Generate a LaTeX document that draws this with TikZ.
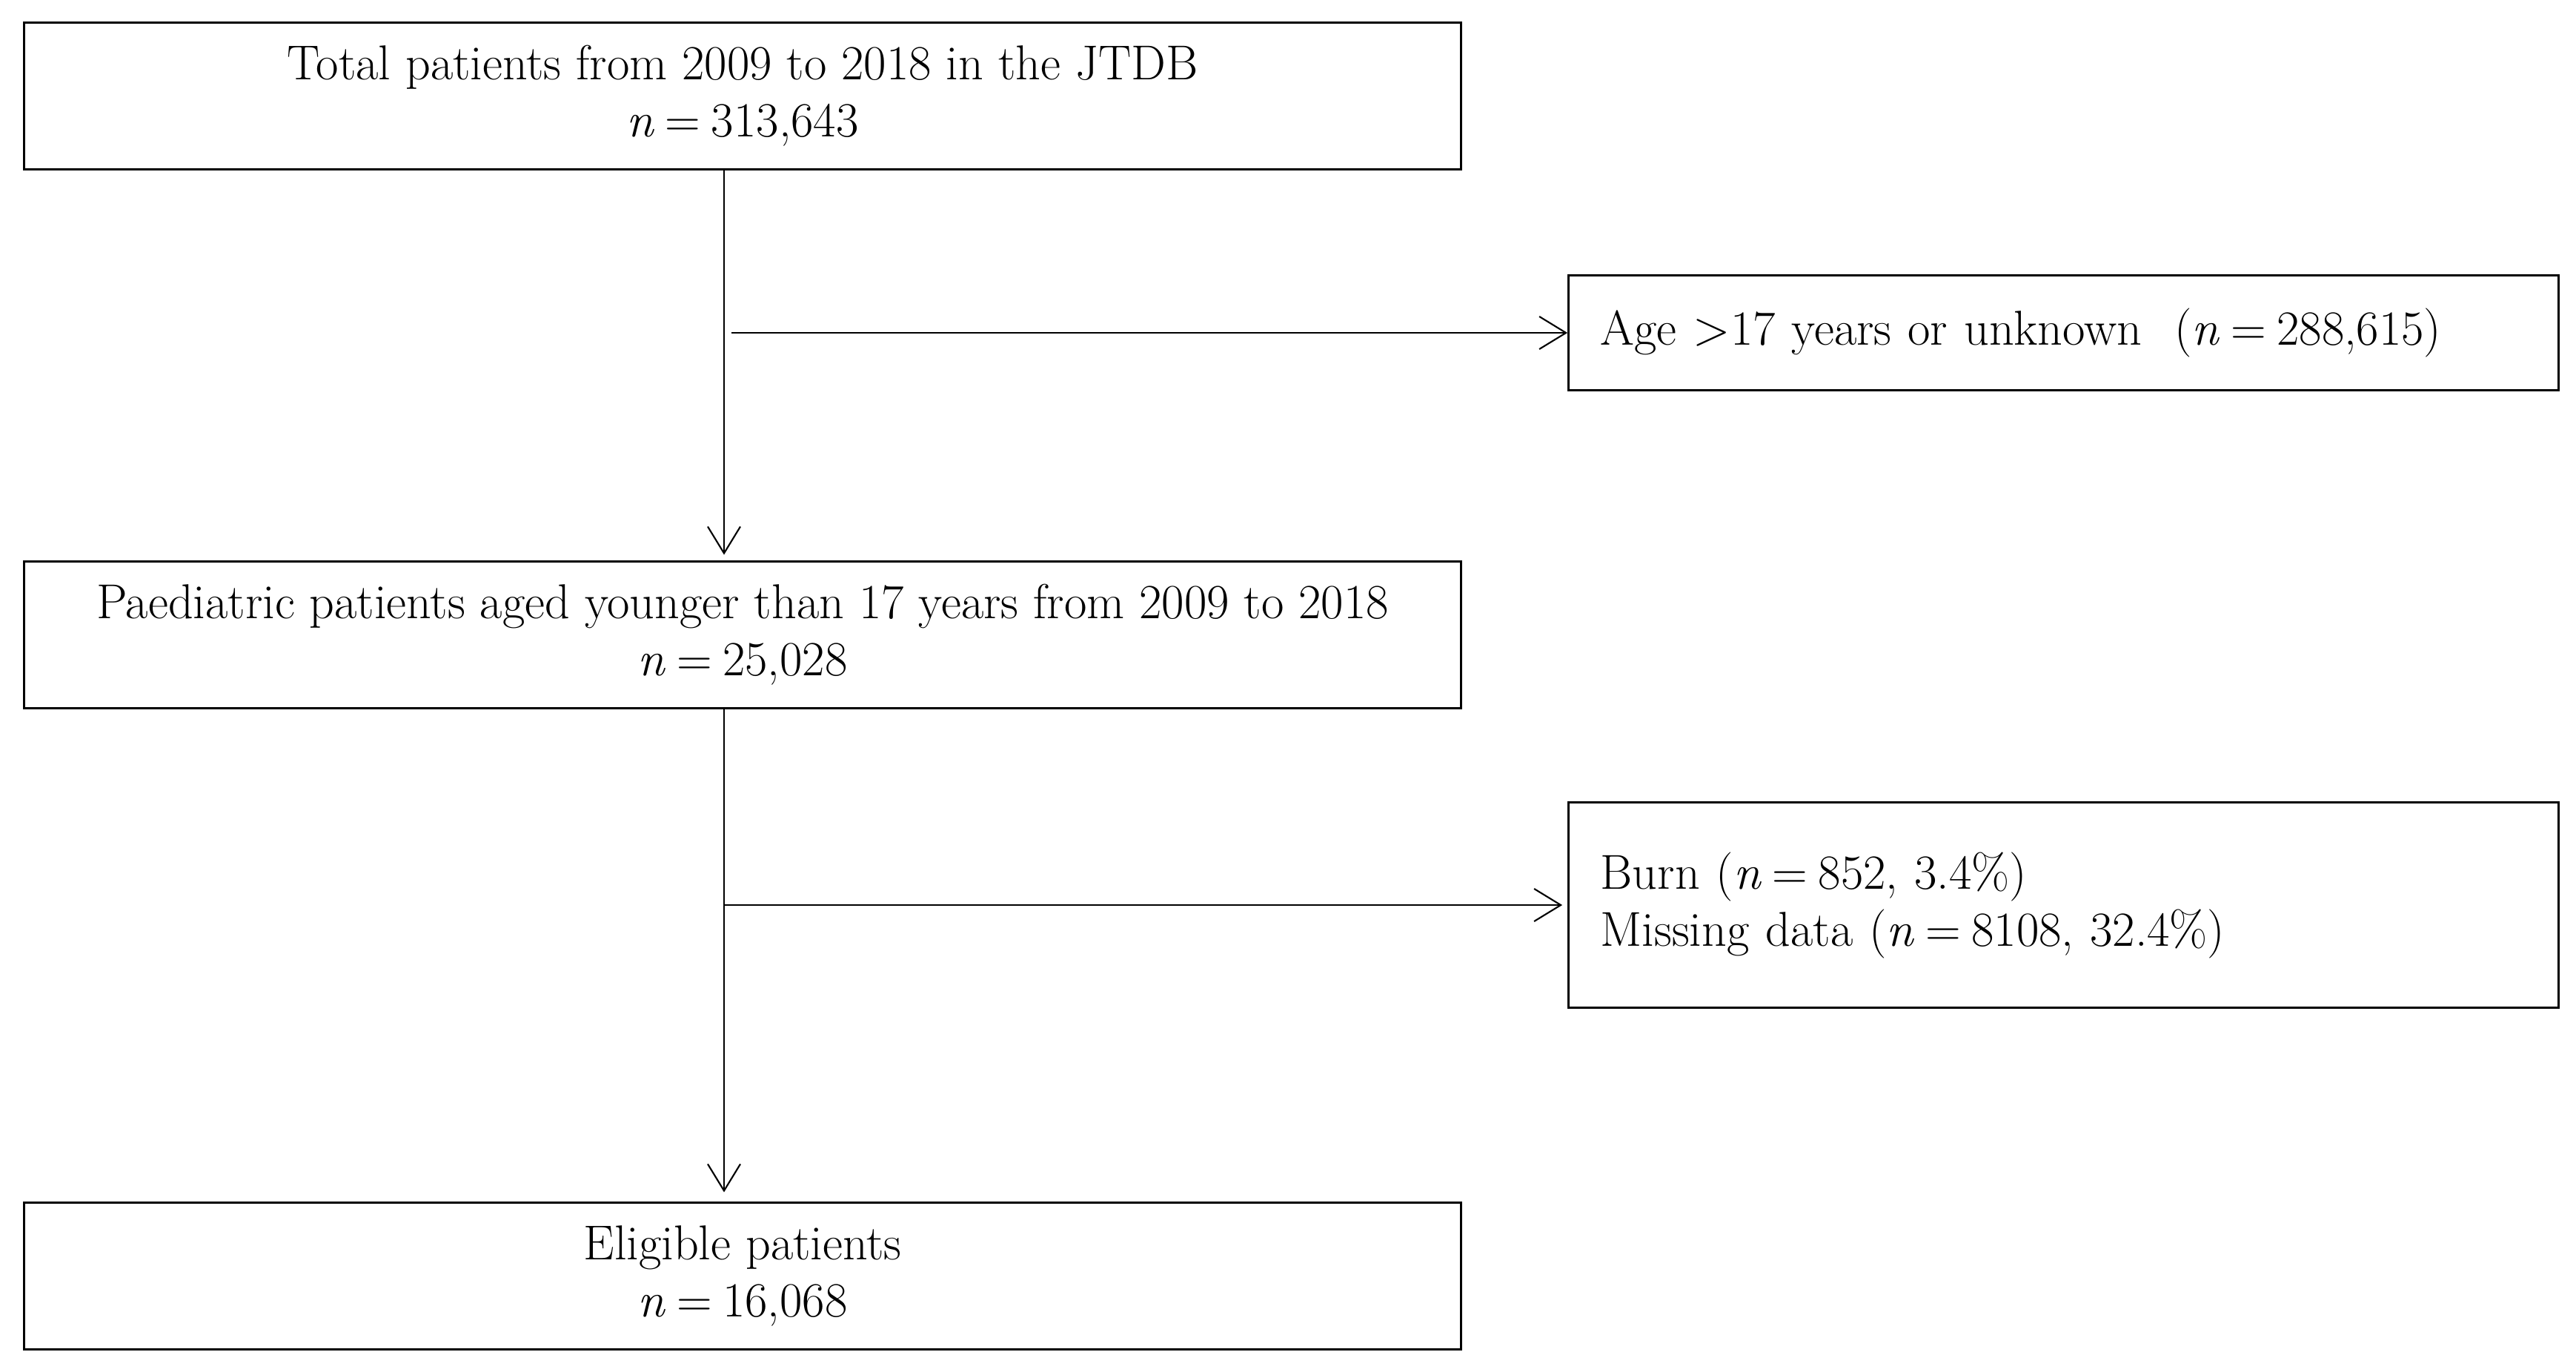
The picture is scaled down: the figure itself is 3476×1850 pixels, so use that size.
\documentclass[tikz,border=0pt]{standalone}
\usetikzlibrary{arrows.meta}
\newcommand{\eqsp}{\hspace{0.22em}=\hspace{0.22em}}
\begin{document}
\begin{tikzpicture}[x=0.01cm,y=-0.01cm,
  mainbox/.style={draw=black, line width=0.85pt, minimum width=19.38cm, minimum height=1.97cm,
    align=center, inner sep=0pt, font=\fontsize{18.8}{21.9}\selectfont},
  sidebox/.style={draw=black, line width=0.85pt, text width=12.49cm, inner xsep=0.43cm, inner ysep=0pt,
    align=left, font=\fontsize{18.8}{21.9}\selectfont},
  arr/.style={line width=0.6pt, -{Straight Barb[length=0.36cm, width=0.44cm, line width=0.6pt]}}]
\useasboundingbox (0,0) rectangle (3476,1850);
\node[mainbox] (box1) at (1002,129.5) {Total patients from 2009 to 2018 in the JTDB\\ \textit{n}\eqsp313,643};
\node[sidebox, minimum height=1.54cm] (side1) at (2784.5,449) {Age >17 years or unknown~~(\textit{n}\eqsp288,615)};
\node[mainbox] (box2) at (1002,856.5) {Paediatric patients aged younger than 17 years from 2009 to 2018\\ \textit{n}\eqsp25,028};
\node[sidebox, minimum height=2.76cm] (side2) at (2784.5,1221) {Burn (\textit{n}\eqsp852, 3.4\%)\\ Missing data (\textit{n}\eqsp8108, 32.4\%)};
\node[mainbox] (box3) at (1002,1721.5) {Eligible patients\\ \textit{n}\eqsp16,068};
\coordinate (c1) at (977,449);
\coordinate (c2) at (977,1221);
\draw[arr, shorten >=0.08cm] (box1.south -| c1) -- (box2.north -| c1);
\draw[arr] ([xshift=0.1cm]c1) -- (side1.west);
\draw[arr, shorten >=0.13cm] (box2.south -| c2) -- (box3.north -| c2);
\draw[arr, shorten >=0.07cm] (c2) -- (side2.west);
\end{tikzpicture}
\end{document}
